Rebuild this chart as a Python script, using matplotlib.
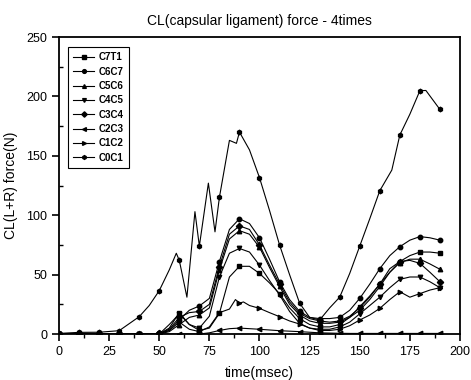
# -*- coding: utf-8 -*-
# CL (capsular ligament) force - 4times

import numpy as np
import matplotlib.pyplot as plt
from matplotlib.ticker import MultipleLocator

plt.rcParams['font.family'] = ['Liberation Sans', 'DejaVu Sans']

# tempo comum (ms)
t = np.arange(0, 195, 5)

c7t1 = [0, 0, 0, 0, 0, 0, 0, 0, 0, 0,
        0, 5, 18, 8, 3, 5, 17.4, 48, 57, 57,
        51, 43, 34, 22, 13, 8, 6, 6, 8, 14,
        23, 32, 42, 52, 61, 66, 69, 69, 68]
c6c7 = [0, 0, 0, 0, 0, 0, 0, 0, 0, 0,
        0.5, 3, 12, 20, 23.6, 30, 61, 88, 97, 93,
        81, 63, 44, 29, 19, 14, 13, 13, 14, 20,
        30, 42, 55, 66, 73.5, 79, 82, 81, 79]
c5c6 = [0, 0, 0, 0, 0, 0, 0, 0, 0, 0,
        0, 2, 8, 14, 16, 22, 54, 80, 87, 84,
        73, 56, 40, 25, 16, 11, 9, 9, 10, 14,
        20, 29, 40, 52, 60, 63, 63, 59, 54.5]
c4c5 = [0, 0, 0, 0, 0, 0, 0, 0, 0, 0,
        0, 8, 17, 8, 5, 15, 48, 68, 72, 69,
        58, 45, 33, 19, 9, 5, 4, 4, 6, 10,
        17, 24, 31, 39, 46, 48, 48, 44, 39]
c3c4 = [0, 0, 0, 0, 0, 0, 0, 0, 0, 0,
        0.5, 4, 14, 18, 19, 25, 56.7, 84, 91, 88,
        75, 58, 42, 27, 17.4, 13, 11, 10, 11, 15,
        22, 31, 42, 55, 61, 62, 59.5, 52, 44]
c2c3 = [0, 0, 0, 0, 0, 0, 0, 0, 0, 0,
        0, 0, 0, 0, 0, 1, 3, 4.5, 5, 4.5,
        4, 3.4, 2.8, 2.4, 2, 1.5, 1, 0.8, 0.6, 0.5,
        0.5, 0.5, 0.5, 0.5, 0.5, 0.5, 0.5, 0.5, 0.5]

t_c1c2 = np.array([0, 5, 10, 15, 20, 25, 30, 35, 40, 45,
                   50, 55, 60, 65, 70, 75, 80, 85, 88, 90,
                   92, 95, 100, 105, 110, 115, 120, 125, 130, 135,
                   140, 145, 150, 155, 160, 165, 170, 175, 180, 185, 190])
c1c2 = [0, 0, 0, 0, 0, 0, 0, 0, 0, 0,
        0, 3, 10, 4, 2, 6, 18, 21, 29, 26,
        27, 24, 21.6, 18, 14.6, 11, 8.4, 5, 3, 3,
        4, 7, 11.8, 16, 21.6, 29, 35.6, 31, 34, 37, 39]

t_c0c1 = np.array([0, 10, 20, 30, 40, 45, 50, 55, 58.5, 60,
                   63.8, 67.8, 70, 74.5, 77.8, 80, 85, 88.5, 90, 95,
                   100, 105, 110, 115, 120, 125, 130, 135, 140, 145,
                   150, 155, 160, 166, 170, 175, 180, 183, 190])
c0c1 = [0.5, 1.4, 1.5, 2.8, 14.6, 24, 36.5, 54, 68, 62,
        31, 103, 74, 127, 86, 115, 163, 160.5, 170, 155,
        131.6, 104, 75, 50, 26, 14, 11.8, 22, 31, 51,
        74, 97, 120.6, 138, 167.5, 185, 204.8, 205, 189]

series = [
    ('C7T1', t, c7t1, 's'),
    ('C6C7', t, c6c7, 'o'),
    ('C5C6', t, c5c6, '^'),
    ('C4C5', t, c4c5, 'v'),
    ('C3C4', t, c3c4, 'D'),
    ('C2C3', t, c2c3, '<'),
    ('C1C2', t_c1c2, c1c2, '>'),
    ('C0C1', t_c0c1, c0c1, 'h'),
]

fig = plt.figure(figsize=(4.71, 3.80), dpi=100)
ax = fig.add_axes([0.1253, 0.121, 0.8513, 0.7816])

for nome, tx, y, mk in series:
    tx = np.asarray(tx, dtype=float)
    marcas = list(np.isclose(tx % 10, 0))
    ax.plot(tx, y, color='black', lw=0.8, marker=mk, markersize=3.2,
            markevery=marcas, label=nome)

ax.set_xlim(0, 200)
ax.set_ylim(0, 250)
ax.xaxis.set_major_locator(MultipleLocator(25))
ax.xaxis.set_minor_locator(MultipleLocator(12.5))
ax.yaxis.set_major_locator(MultipleLocator(50))
ax.yaxis.set_minor_locator(MultipleLocator(25))
ax.tick_params(which='major', direction='out', length=5, width=1.2, labelsize=9)
ax.tick_params(which='minor', direction='out', length=3, width=1.0)
ax.tick_params(axis='y', which='minor', direction='in')
for s in ax.spines.values():
    s.set_linewidth(1.3)

ax.set_title("CL(capsular ligament) force - 4times", fontsize=10, pad=9)
ax.set_xlabel("time(msec)", fontsize=10, labelpad=6)
ax.set_ylabel("CL(L+R) force(N)", fontsize=10, labelpad=6)

leg = ax.legend(loc='upper left', bbox_to_anchor=(0.015, 0.975), fancybox=False,
                edgecolor='black', framealpha=1, handlelength=2.2,
                prop={'size': 7, 'weight': 'bold'}, labelspacing=0.45,
                borderpad=0.5, handletextpad=0.5, borderaxespad=0.3,
                markerscale=0.85)
leg.get_frame().set_linewidth(0.8)

plt.savefig('out.png', dpi=100)
